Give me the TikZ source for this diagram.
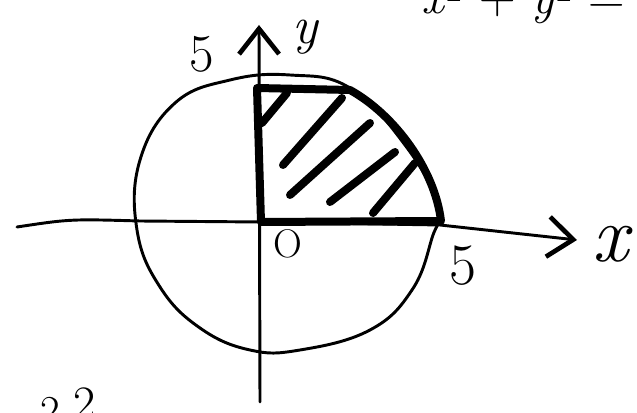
\documentclass[tikz,border=0pt]{standalone}
\usepackage{fontspec}
\usetikzlibrary{arrows.meta}
\begin{document}
\begin{tikzpicture}[x=0.75pt,y=-0.75pt,
    pen/.style={line width=2.2pt,line cap=round,line join=round},
    heavy/.style={line width=6pt,line cap=round,line join=round},
    axis/.style={pen,-{Straight Barb[length=19pt,width=30pt,line width=3.5pt]}},
    hand/.style={inner sep=0pt}]
  \useasboundingbox (0,0) rectangle (637,413);
  % circle
  \draw[pen] plot[smooth cycle,tension=0.7] coordinates {
    (290,75) (350,88) (405,145) (438,205) (432,238) (412,290) (370,330)
    (300,350) (250,350) (200,328) (160,287) (137,230) (140,160) (175,103) (230,80)};
  % axes
  \coordinate (o) at (261,222);
  \draw[axis] (17,227) .. controls (70,219) .. (140,221) -- (o) -- (440,225) -- (577,240);
  \draw[axis] (260,402) -- (259,25);
  % shaded quarter
  \draw[heavy] (o) -- (257,88) -- (350,90)
    .. controls (395,115) and (435,170) .. (441,221) -- cycle;
  \foreach \xa/\ya/\xb/\yb in {262/123/287/93, 283/165/342/98, 290/195/370/123,
                               330/202/395/152, 373/213/415/163}
    \draw[heavy] (\xa,\ya) -- (\xb,\yb);
  % labels
  \node[hand,font=\fontsize{40}{48}\selectfont] (fivey) at (202,54) {5};
  \node[hand,font=\fontsize{40}{48}\selectfont] (namey) at (306,37) {\textit{y}};
  \node[hand,font=\fontsize{30}{36}\selectfont] (orig) at (288,244) {O};
  \node[hand,font=\fontsize{44}{52}\selectfont] (fivex) at (463,266) {5};
  \node[hand,font=\fontsize{60}{70}\selectfont] (namex) at (613,244) {\textit{x}};
  \node[hand,anchor=base west,font=\fontsize{38}{46}\selectfont] (eqn) at (421,14)
    {\textit{x}\textsuperscript{2} + \textit{y}\textsuperscript{2} = 25};
  \node[hand,anchor=north,font=\fontsize{32}{38}\selectfont] (cuta) at (50,397) {2};
  \node[hand,anchor=north,font=\fontsize{36}{42}\selectfont] (cutb) at (85,388) {2};
\end{tikzpicture}
\end{document}
